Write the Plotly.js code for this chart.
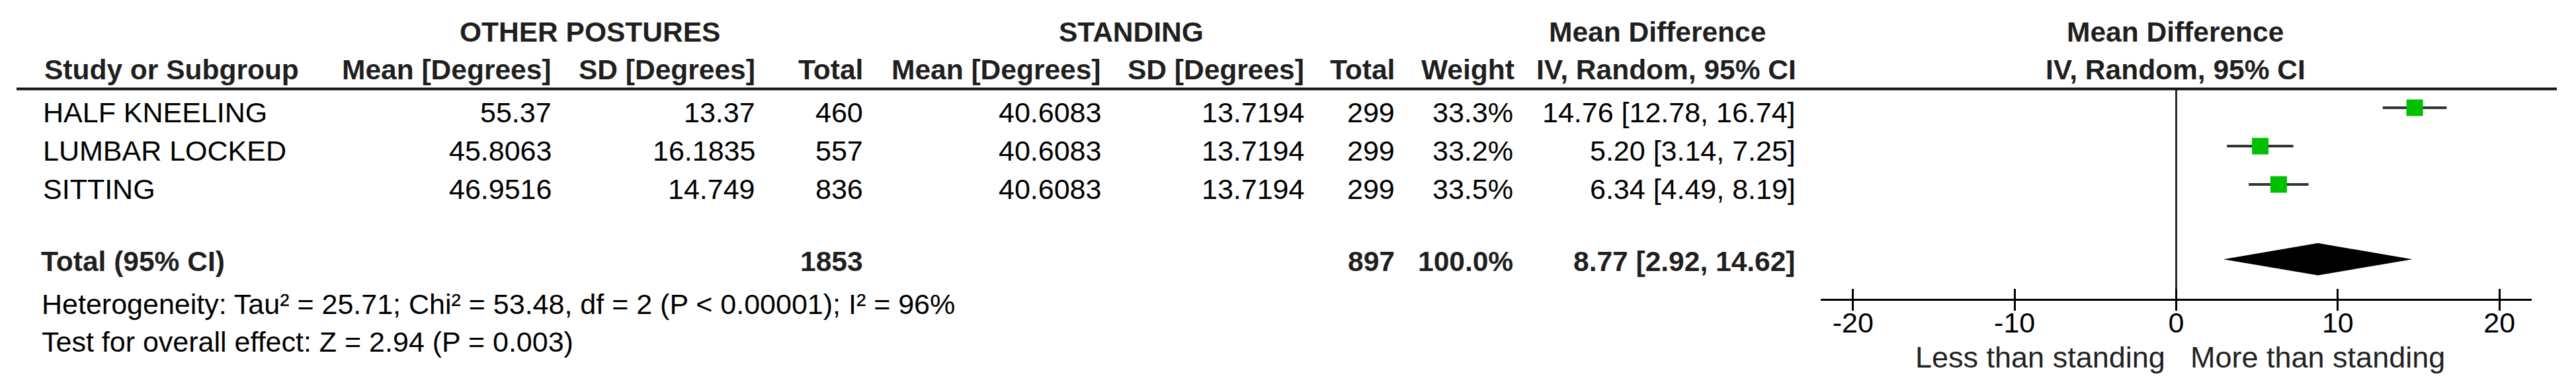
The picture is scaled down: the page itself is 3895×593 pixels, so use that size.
<!DOCTYPE html>
<html>
<head>
<meta charset="utf-8">
<script src="https://cdn.plot.ly/plotly-3.0.1.min.js"></script>
<style>html,body{margin:0;padding:0;background:#fff;}#chart{width:3895px;height:593px;}</style>
</head>
<body>
<div id="chart"></div>
<script>
// ---------------- DATA ----------------
const studies = ['HALF KNEELING', 'LUMBAR LOCKED', 'SITTING'];
const otherMean = [55.37, 45.8063, 46.9516];
const otherSD = [13.37, 16.1835, 14.749];
const otherN = [460, 557, 836];
const standMean = [40.6083, 40.6083, 40.6083];
const standSD = [13.7194, 13.7194, 13.7194];
const standN = [299, 299, 299];
const weights = [33.3, 33.2, 33.5];
const md = [14.76, 5.20, 6.34];
const ciLow = [12.78, 3.14, 4.49];
const ciHigh = [16.74, 7.25, 8.19];

const totalLabel = 'Total (95% CI)';
const totalOtherN = 1853;
const totalStandN = 897;
const totalWeight = 100.0;
const totalMD = 8.77;
const totalLow = 2.92;
const totalHigh = 14.62;

const heterogeneity = {tau2: 25.71, chi2: 53.48, df: 2, p: '< 0.00001', i2: 96};
const overall = {z: 2.94, p: 0.003};

const tickVals = [-20, -10, 0, 10, 20];
const tickText = ['-20', '-10', '0', '10', '20'];
const groupHeaders = ['OTHER POSTURES', 'STANDING', 'Mean Difference', 'Mean Difference'];
const colHeaders = ['Study or Subgroup', 'Mean [Degrees]', 'SD [Degrees]', 'Total',
  'Mean [Degrees]', 'SD [Degrees]', 'Total', 'Weight', 'IV, Random, 95% CI', 'IV, Random, 95% CI'];
const favourLabels = ['Less than standing', 'More than standing'];

// ---------------- LAYOUT ----------------
const W = 3895, H = 593;
const FONT = 'Liberation Sans, Arial, Helvetica, sans-serif';
const FS = 43;
const FSB = 42.5;
const FSF = 45;
const px = x => x / W;
const py = y => 1 - y / H;
const CAPC = 15; // baseline -> visual middle

const annotations = [];
function ann(text, x, base, anchor, bold, color) {
  annotations.push({
    xref: 'paper', yref: 'paper', x: px(x), y: py(base - CAPC),
    xanchor: anchor, yanchor: 'middle', showarrow: false,
    text: bold ? '<b>' + text + '</b>' : text,
    font: {family: FONT, size: bold ? FSB : FS, color: color || (bold ? '#1f1f1f' : '#000')},
    borderpad: 0
  });
}

// column right edges
const colX = {name: 64, oMean: 835, oSD: 1143, oN: 1306, sMean: 1666, sSD: 1973, sN: 2110, w: 2289, ci: 2716};

// group headers
const GB = 63;
ann(groupHeaders[0], 892, GB, 'center', true);
ann(groupHeaders[1], 1710, GB, 'center', true);
ann(groupHeaders[2], 2506, GB, 'center', true);
ann(groupHeaders[3], 3289, GB, 'center', true);

// column headers
const HB = 120;
ann(colHeaders[0], 66, HB, 'left', true);
ann(colHeaders[1], colX.oMean, HB, 'right', true);
ann(colHeaders[2], colX.oSD, HB, 'right', true);
ann(colHeaders[3], colX.oN, HB, 'right', true);
ann(colHeaders[4], colX.sMean, HB, 'right', true);
ann(colHeaders[5], colX.sSD, HB, 'right', true);
ann(colHeaders[6], colX.sN, HB, 'right', true);
ann(colHeaders[7], colX.w + 2, HB, 'right', true);
ann(colHeaders[8], colX.ci + 1, HB, 'right', true);
ann(colHeaders[9], 3289, HB, 'center', true);

// study rows
const ROW0 = 185, ROWSTEP = 58;
studies.forEach((s, i) => {
  const b = ROW0 + i * ROWSTEP;
  ann(s, colX.name, b, 'left', false);
  ann(String(otherMean[i]), colX.oMean, b, 'right', false);
  ann(String(otherSD[i]), colX.oSD, b, 'right', false);
  ann(String(otherN[i]), colX.oN, b, 'right', false);
  ann(String(standMean[i]), colX.sMean, b, 'right', false);
  ann(String(standSD[i]), colX.sSD, b, 'right', false);
  ann(String(standN[i]), colX.sN, b, 'right', false);
  ann(weights[i].toFixed(1) + '%', colX.w, b, 'right', false);
  ann(md[i].toFixed(2) + ' [' + ciLow[i].toFixed(2) + ', ' + ciHigh[i].toFixed(2) + ']', colX.ci, b, 'right', false);
});

// total row
const TB = 410;
ann(totalLabel, 61, TB, 'left', true);
ann(String(totalOtherN), colX.oN, TB, 'right', true);
ann(String(totalStandN), colX.sN, TB, 'right', true);
ann(totalWeight.toFixed(1) + '%', colX.w, TB, 'right', true);
ann(totalMD.toFixed(2) + ' [' + totalLow.toFixed(2) + ', ' + totalHigh.toFixed(2) + ']', colX.ci, TB, 'right', true);

// footnotes
ann('Heterogeneity: Tau² = ' + heterogeneity.tau2.toFixed(2) + '; Chi² = ' + heterogeneity.chi2.toFixed(2) +
    ', df = ' + heterogeneity.df + ' (P ' + heterogeneity.p + '); I² = ' + heterogeneity.i2 + '%', 62, 475, 'left', false);
ann('Test for overall effect: Z = ' + overall.z.toFixed(2) + ' (P = ' + overall.p + ')', 62, 532, 'left', false);

// favour labels under axis
annotations.push({xref: 'x', yref: 'paper', x: 0, xshift: -16, y: py(555 - CAPC), xanchor: 'right', yanchor: 'middle',
  showarrow: false, text: favourLabels[0], font: {family: FONT, size: FSF, color: '#222'}, borderpad: 0});
annotations.push({xref: 'x', yref: 'paper', x: 0, xshift: 20, y: py(555 - CAPC), xanchor: 'left', yanchor: 'middle',
  showarrow: false, text: favourLabels[1], font: {family: FONT, size: FSF, color: '#222'}, borderpad: 0});

// forest plot geometry (row units)
const rowY = studies.map((s, i) => i);
const totalY = studies.length + 0.95;
const yTop = -0.5, yBottom = totalY + 1.03;
const diamondHalf = 0.42;

const traces = [];
traces.push({
  type: 'scatter', mode: 'markers', x: md, y: rowY, xaxis: 'x', yaxis: 'y',
  marker: {symbol: 'square', size: 25, color: '#00c000', line: {width: 0}},
  error_x: {type: 'data', symmetric: false,
    array: md.map((m, i) => ciHigh[i] - m), arrayminus: md.map((m, i) => m - ciLow[i]),
    color: '#333', thickness: 4, width: 0},
  hoverinfo: 'skip', showlegend: false
});
traces.push({
  type: 'scatter', mode: 'lines',
  x: [totalLow, totalMD, totalHigh, totalMD, totalLow],
  y: [totalY, totalY - diamondHalf, totalY, totalY + diamondHalf, totalY],
  fill: 'toself', fillcolor: '#000', line: {width: 0, color: '#000'},
  hoverinfo: 'skip', showlegend: false
});
traces.push({type: 'scatter', mode: 'markers', x: [0], y: [null], xaxis: 'x2', yaxis: 'y',
  hoverinfo: 'skip', showlegend: false});

const axisTop = 134, axisBottom = 452;
const layout = {
  width: W, height: H,
  margin: {l: 0, r: 0, t: 0, b: 0},
  paper_bgcolor: '#fff', plot_bgcolor: 'rgba(0,0,0,0)',
  showlegend: false,
  font: {family: FONT, size: FS, color: '#000'},
  xaxis: {
    domain: [px(2753), px(3828)], range: [-22, 22], anchor: 'y',
    showgrid: false, zeroline: true, zerolinecolor: '#2a2a2a', zerolinewidth: 3,
    showline: true, linecolor: '#000', linewidth: 3,
    ticks: 'outside', ticklen: 15, tickwidth: 3, tickcolor: '#000',
    tickvals: tickVals, ticktext: tickText, ticklabelstandoff: -19,
    tickfont: {family: FONT, size: FS, color: '#000'}, fixedrange: true
  },
  xaxis2: {
    overlaying: 'x', matches: 'x', anchor: 'y', side: 'bottom',
    showgrid: false, zeroline: false, showline: false,
    ticks: 'inside', ticklen: 15, tickwidth: 3, tickcolor: '#000',
    tickvals: tickVals, showticklabels: false
  },
  yaxis: {
    domain: [py(axisBottom), py(axisTop)], range: [yBottom, yTop],
    visible: false, showgrid: false, zeroline: false, fixedrange: true
  },
  shapes: [{
    type: 'line', xref: 'paper', yref: 'paper', x0: px(25), x1: px(3866), y0: py(134.5), y1: py(134.5),
    line: {color: '#111', width: 4}
  }],
  annotations: annotations
};

Plotly.newPlot('chart', traces, layout, {displayModeBar: false, staticPlot: true});
</script>
</body>
</html>
